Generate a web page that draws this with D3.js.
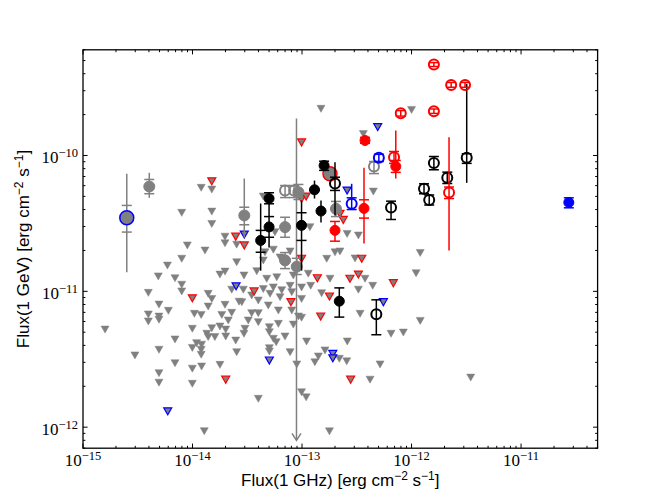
<!DOCTYPE html>
<html lang="en">
<head>
<meta charset="UTF-8">
<title>Flux(1 GHz) vs Flux(1 GeV)</title>
<script src="https://cdnjs.cloudflare.com/ajax/libs/d3/7.8.5/d3.min.js"></script>
<style>
    body { margin: 0; background: #fff; }
    svg { display: block; }
    .tick-label { font-family: "Liberation Serif", serif; font-size: 17px; fill: #000; }
    .axis-label { font-family: "Liberation Sans", sans-serif; font-size: 17px; fill: #000; }
</style>
</head>
<body>
<div id="chart"></div>
<script>
// upper limits: [flux 1 GHz, flux 1 GeV]
const limitsGray = [
    [5.9e-15, 1.55e-11], [1.78e-14, 1.33e-11], [1.98e-14, 1.40e-11], [2.53e-14, 1.64e-11],
    [4.87e-15, 1.29e-11], [6.92e-15, 1.25e-11], [7.97e-15, 1.12e-11], [7.97e-15, 1.0e-11],
    [2.28e-14, 1.03e-11], [3.95e-15, 9.76e-12], [1.39e-14, 9.6e-12], [1.50e-14, 8.8e-12],
    [4.94e-15, 8.0e-12], [1.39e-14, 7.74e-12], [1.98e-14, 7.97e-12], [2.66e-14, 8.4e-12],
    [6.02e-15, 7.2e-12], [3.95e-15, 6.77e-12], [4.94e-15, 6.53e-12], [4.94e-15, 6.19e-12],
    [1.04e-14, 6.84e-12], [1.20e-14, 6.72e-12], [1.85e-14, 6.72e-12], [2.28e-14, 6.96e-12],
    [2.12e-14, 6.11e-12], [3.95e-15, 6.01e-12], [1.59e-15, 5.24e-12], [9.96e-15, 5.31e-12],
    [1.50e-14, 5.36e-12], [1.78e-14, 5.52e-12], [2.01e-14, 5.24e-12], [1.35e-14, 4.88e-12],
    [1.39e-14, 4.61e-12], [1.60e-14, 4.61e-12], [2.01e-14, 4.66e-12], [2.48e-14, 4.35e-12],
    [6.92e-15, 4.43e-12], [1.09e-14, 4.16e-12], [1.21e-14, 4.05e-12], [9.96e-15, 3.84e-12],
    [1.20e-14, 3.72e-12], [4.94e-15, 3.72e-12], [2.53e-14, 3.57e-12], [2.98e-15, 3.38e-12],
    [1.20e-14, 3.42e-12], [6.92e-15, 2.96e-12], [1.78e-14, 2.88e-12], [1.21e-14, 2.80e-12],
    [9.96e-15, 2.70e-12], [4.94e-15, 2.50e-12], [4.94e-15, 2.13e-12], [9.96e-15, 2.09e-12],
    [1.28e-14, 9.36e-13], [1.20e-14, 5.79e-11], [1.50e-14, 5.62e-11], [7.97e-15, 3.79e-11],
    [1.50e-14, 3.87e-11], [1.50e-14, 3.14e-11], [1.98e-14, 2.53e-11], [1.98e-14, 2.26e-11],
    [2.53e-14, 2.21e-11], [8.97e-15, 2.18e-11], [1.30e-14, 2.0e-11], [7.97e-15, 1.74e-11],
    [1.49e-13, 2.21e-10], [3.63e-13, 1.44e-10], [4.43e-14, 4.99e-11], [5.66e-14, 2.73e-11],
    [1.18e-13, 2.97e-11], [3.27e-13, 2.58e-11], [1.68e-13, 1.74e-11], [2.0e-13, 1.94e-11],
    [2.22e-13, 1.97e-11], [3.05e-13, 1.75e-11], [7.78e-14, 1.97e-11], [5.47e-14, 2.03e-11],
    [4.59e-14, 1.94e-11], [4.43e-14, 1.69e-11], [6.30e-14, 1.78e-11], [2.58e-13, 2.65e-11],
    [4.48e-13, 5.43e-11], [2.95e-14, 1.31e-11], [3.86e-14, 1.41e-11], [4.76e-14, 1.24e-11],
    [5.88e-14, 1.27e-11], [8.33e-14, 1.31e-11], [1.14e-13, 1.35e-11], [7.78e-14, 1.10e-11],
    [9.9e-14, 1.07e-11], [1.80e-13, 1.24e-11], [3.76e-13, 1.24e-11], [4.42e-13, 1.10e-11],
    [1.20e-13, 1.10e-11], [2.91e-14, 1.03e-11], [3.47e-14, 9.34e-12], [4.43e-14, 1.04e-11],
    [5.10e-14, 9.60e-12], [5.47e-14, 1.07e-11], [6.53e-14, 1.02e-11], [6.30e-14, 9.07e-12],
    [8.06e-14, 9.87e-12], [9.9e-14, 8.81e-12], [1.51e-13, 9.70e-12], [3.27e-13, 1.03e-11],
    [2.82e-14, 8.33e-12], [3.99e-14, 8.58e-12], [4.92e-14, 7.88e-12], [3.47e-14, 6.92e-12],
    [3.99e-14, 6.92e-12], [6.08e-14, 7.24e-12], [8.06e-14, 7.24e-12], [9.27e-14, 6.54e-12],
    [9.9e-14, 6.40e-12], [3.39e-13, 6.84e-12], [3.23e-14, 6.11e-12], [3.99e-14, 5.94e-12],
    [6.08e-14, 5.77e-12], [5.03e-14, 5.45e-12], [8.33e-14, 5.70e-12], [3.01e-14, 5.31e-12],
    [2.95e-14, 4.88e-12], [5.03e-14, 5.01e-12], [6.99e-14, 4.66e-12], [5.47e-14, 4.48e-12],
    [5.81e-14, 4.23e-12], [1.10e-13, 4.28e-12], [2.59e-13, 4.28e-12], [6.50e-13, 4.88e-12],
    [5.03e-14, 3.82e-12], [5.03e-14, 3.61e-12], [7.78e-14, 3.57e-12], [1.62e-13, 3.68e-12],
    [1.41e-13, 3.32e-12], [1.31e-13, 3.01e-12], [2.19e-13, 3.19e-12], [2.56e-13, 3.06e-12],
    [8.95e-14, 2.90e-12], [5.16e-13, 2.90e-12], [4.18e-13, 2.24e-12], [9.9e-14, 1.81e-12],
    [1.09e-13, 1.66e-12], [3.99e-14, 1.62e-12], [1.78e-13, 9.33e-13], [1.20e-12, 1.92e-11],
    [1.10e-12, 1.36e-11], [1.20e-12, 6.07e-12], [8.42e-13, 4.98e-12], [3.47e-12, 2.32e-12],
    [1.0e-12, 2.17e-10]
];
const limitsRedEdge = [
    [9.96e-15, 8.9e-12], [2.01e-14, 2.24e-12], [1.50e-14, 6.47e-11], [2.48e-14, 2.53e-11],
    [9.9e-14, 1.25e-10], [9.9e-14, 4.80e-11], [1.09e-13, 4.99e-11], [2.97e-14, 2.18e-11],
    [2.22e-13, 3.72e-11], [2.38e-13, 3.36e-11], [3.51e-13, 1.74e-11], [9.9e-14, 1.74e-11],
    [1.38e-13, 1.25e-11], [2.74e-13, 1.24e-11], [3.27e-13, 1.33e-11], [3.65e-14, 1.0e-11],
    [7.92e-14, 8.33e-12], [1.78e-13, 9.18e-12], [6.82e-13, 1.15e-11], [1.48e-13, 6.54e-12],
    [2.78e-13, 2.24e-12]
];
const limitsBlueEdge = [
    [2.50e-14, 1.09e-11], [5.94e-15, 1.31e-12], [2.97e-14, 2.62e-11], [5.53e-13, 8.33e-12],
    [1.91e-13, 3.47e-12], [1.91e-13, 3.22e-12], [5.03e-14, 3.10e-12], [4.91e-13, 1.62e-10],
    [2.58e-13, 5.53e-11]
];

// detections: [x, y, capLo, capHi, lineLo, lineHi]
const grayFilled = [
    [4.03e-15, 5.91e-11, 5.23e-11, 6.66e-11, 4.88e-11, 7.46e-11],
    [2.97e-14, 3.62e-11, 3.09e-11, 4.16e-11, 2.49e-11, 6.77e-11],
    [7.0e-14, 2.97e-11, 2.50e-11, 3.51e-11],
    [9.27e-14, 5.37e-11, 4.74e-11, 6.12e-11],
    [7.0e-14, 1.69e-11, 1.47e-11, 1.93e-11],
    [8.95e-14, 1.52e-11, 1.33e-11, 1.75e-11],
    [2.04e-13, 4.05e-11, 3.55e-11, 4.59e-11]
];
const grayBlueRing = [[2.51e-15, 3.48e-11, 2.73e-11, 4.29e-11, 1.38e-11, 7.33e-11]];
const grayRedRing = [[1.80e-13, 7.33e-11]];
const grayOpen = [
    [7.0e-14, 5.53e-11, 4.90e-11, 6.01e-11],
    [8.46e-14, 5.53e-11, 4.90e-11, 6.01e-11],
    [4.54e-13, 8.31e-11, 7.36e-11, 9.03e-11]
];
// long gray error bar ending in an arrow: [x, top, arrow tip]
const grayArrow = [[8.9e-14, 1.87e-10, 8.0e-13]];

const blackFilled = [
    [5.00e-14, 4.82e-11, 4.41e-11, 5.32e-11],
    [5.00e-14, 2.98e-11, 2.50e-11, 3.55e-11, 2.10e-11, 4.43e-11],
    [4.19e-14, 2.37e-11, 1.94e-11, 2.81e-11, 1.42e-11, 4.43e-11],
    [9.9e-14, 3.06e-11, 2.37e-11, 3.79e-11, 1.42e-11, 4.66e-11],
    [1.59e-13, 8.43e-11, 7.77e-11, 9.08e-11],
    [2.19e-13, 8.46e-12, 6.46e-12, 1.06e-11]
];
// [x, y, yLo, yHi, xLo, xHi]
const blackCross = [
    [1.30e-13, 5.59e-11, 4.82e-11, 6.54e-11, 1.16e-13, 1.46e-13],
    [1.49e-13, 3.90e-11, 3.21e-11, 4.66e-11, 1.34e-13, 1.66e-13]
];
const blackOpen = [
    [2.0e-13, 6.22e-11, 5.53e-11, 6.92e-11, 3.62e-11, 8.92e-11],
    [6.50e-13, 4.14e-11, 3.38e-11, 4.61e-11],
    [1.60e-12, 8.80e-11, 7.85e-11, 9.83e-11],
    [1.30e-12, 5.69e-11, 5.23e-11, 6.19e-11],
    [1.45e-12, 4.70e-11, 4.32e-11, 5.12e-11],
    [2.12e-12, 6.86e-11, 6.22e-11, 7.54e-11],
    [3.19e-12, 9.62e-11, 8.75e-11, 1.03e-10, 6.29e-11, 3.37e-10],
    [4.77e-13, 6.77e-12, 4.79e-12, 8.66e-12]
];
const redFilled = [
    [3.76e-13, 1.29e-10, 1.23e-10, 1.36e-10],
    [3.68e-13, 4.08e-11, 3.46e-11, 4.72e-11, 2.25e-11, 8.12e-11],
    [2.0e-13, 2.81e-11, 2.34e-11, 3.27e-11],
    [7.18e-13, 8.31e-11, 7.51e-11, 9.19e-11, 6.77e-11, 1.53e-10]
];
const redOpen = [
    [1.60e-12, 4.67e-10, 4.52e-10, 4.83e-10],
    [2.30e-12, 3.31e-10, 3.18e-10, 3.45e-10],
    [3.08e-12, 3.31e-10, 3.18e-10, 3.45e-10],
    [1.60e-12, 2.12e-10, 2.04e-10, 2.20e-10],
    [7.97e-13, 2.05e-10, 1.95e-10, 2.14e-10],
    [6.92e-13, 9.71e-11, 8.75e-11, 1.07e-10],
    [2.20e-12, 5.34e-11, 4.82e-11, 5.86e-11, 2.0e-11, 1.36e-10]
];
const blueFilled = [[2.73e-11, 4.51e-11, 4.12e-11, 4.88e-11]];
const blueOpen = [
    [5.03e-13, 9.62e-11, 9.03e-11, 1.02e-10],
    [2.84e-13, 4.41e-11, 4.00e-11, 4.88e-11, 4.00e-11, 6.19e-11]
];

const xMajor = [1e-15, 1e-14, 1e-13, 1e-12, 1e-11];
const yMajor = [1e-12, 1e-11, 1e-10];

const width = 664, height = 498;
const mL = 83, mR = 597.6, mT = 49.8, mB = 448.2;
const gray = "#808080";

const svg = d3.select("#chart").append("svg")
    .attr("width", width)
    .attr("height", height);

const x = d3.scaleLog().domain([1e-15, 5e-11]).range([mL, mR]);
const y = d3.scaleLog().domain([7e-13, 6e-10]).range([mB, mT]);

const plot = svg.append("g");

// triangles pointing down = upper limits
const tri = "M-4,-3.4L4,-3.4L0,3.6Z";
function drawLimits(rows, edge, ew) {
    plot.append("g").selectAll("path")
        .data(rows)
        .join("path")
        .attr("d", tri)
        .attr("transform", d => `translate(${x(d[0])},${y(d[1])})`)
        .attr("fill", gray)
        .attr("stroke", edge)
        .attr("stroke-width", ew);
}
drawLimits(limitsGray, gray, 0.5);
drawLimits(limitsRedEdge, "#ff0000", 1.2);
drawLimits(limitsBlueEdge, "#0000ff", 1.2);

function drawPoints(rows, opt) {
    const g = plot.append("g");
    const lw = opt.lw || 1.5;
    rows.forEach(d => {
        const cx = x(d[0]), cy = y(d[1]);
        if (d.length > 2) {
            const lo = d.length > 4 ? Math.min(d[2], d[4]) : d[2];
            const hi = d.length > 4 ? Math.max(d[3], d[5]) : d[3];
            g.append("line")
                .attr("x1", cx).attr("x2", cx)
                .attr("y1", y(lo)).attr("y2", y(hi))
                .attr("stroke", opt.bar).attr("stroke-width", lw);
            [d[2], d[3]].forEach(v => {
                g.append("line")
                    .attr("x1", cx - 5).attr("x2", cx + 5)
                    .attr("y1", y(v)).attr("y2", y(v))
                    .attr("stroke", opt.bar).attr("stroke-width", lw);
            });
        }
        g.append("circle")
            .attr("cx", cx).attr("cy", cy)
            .attr("r", opt.r || 5)
            .attr("fill", opt.fill)
            .attr("stroke", opt.stroke)
            .attr("stroke-width", opt.sw || 1);
    });
}

// error bar with no lower bound, drawn down to an arrow
grayArrow.forEach(d => {
    const cx = x(d[0]);
    const tip = y(d[2]);
    plot.append("line")
        .attr("x1", cx).attr("x2", cx)
        .attr("y1", y(d[1])).attr("y2", tip)
        .attr("stroke", gray).attr("stroke-width", 1.5);
    plot.append("path")
        .attr("d", `M${cx - 4.5},${tip - 7}L${cx},${tip}L${cx + 4.5},${tip - 7}`)
        .attr("fill", "none")
        .attr("stroke", gray).attr("stroke-width", 1.5);
});

drawPoints(grayFilled, {bar: gray, fill: gray, stroke: gray, r: 5.5});
drawPoints(grayBlueRing, {bar: gray, fill: gray, stroke: "#0000ff", r: 7, sw: 1.5});
drawPoints(grayRedRing, {bar: gray, fill: gray, stroke: "#ff0000", r: 7, sw: 1.5});
drawPoints(grayOpen, {bar: gray, fill: "none", stroke: gray, r: 5, sw: 2});

// black points with both x and y errors
blackCross.forEach(d => {
    const cx = x(d[0]), cy = y(d[1]);
    plot.append("line")
        .attr("x1", cx).attr("x2", cx).attr("y1", y(d[2])).attr("y2", y(d[3]))
        .attr("stroke", "#000").attr("stroke-width", 1.5);
    plot.append("line")
        .attr("x1", x(d[4])).attr("x2", x(d[5])).attr("y1", cy).attr("y2", cy)
        .attr("stroke", "#000").attr("stroke-width", 1.5);
});
drawPoints(blackCross.map(d => d.slice(0, 2)), {fill: "#000", stroke: "#000", r: 5});
drawPoints(blackFilled, {bar: "#000", fill: "#000", stroke: "#000", r: 5});
drawPoints(blackOpen, {bar: "#000", fill: "none", stroke: "#000", r: 5, sw: 2});
drawPoints(redFilled, {bar: "#ff0000", fill: "#ff0000", stroke: "#ff0000", r: 5});
drawPoints(redOpen, {bar: "#ff0000", fill: "none", stroke: "#ff0000", r: 5, sw: 2});
drawPoints(blueFilled, {bar: "#0000ff", fill: "#0000ff", stroke: "#0000ff", r: 5});
drawPoints(blueOpen, {bar: "#0000ff", fill: "none", stroke: "#0000ff", r: 5, sw: 2});

// frame and ticks
const axes = svg.append("g");
axes.append("rect")
    .attr("x", mL).attr("y", mT)
    .attr("width", mR - mL).attr("height", mB - mT)
    .attr("fill", "none").attr("stroke", "#000").attr("stroke-width", 1.3);

const xTicks = x.ticks();
const yTicks = y.ticks();
const isMajor = v => Math.abs(Math.log10(v) - Math.round(Math.log10(v))) < 1e-6;

xTicks.forEach(v => {
    const len = isMajor(v) ? 4.6 : 2.4;
    const px = x(v);
    axes.append("line").attr("x1", px).attr("x2", px).attr("y1", mB).attr("y2", mB - len)
        .attr("stroke", "#000").attr("stroke-width", 1);
    axes.append("line").attr("x1", px).attr("x2", px).attr("y1", mT).attr("y2", mT + len)
        .attr("stroke", "#000").attr("stroke-width", 1);
});
yTicks.forEach(v => {
    const len = isMajor(v) ? 4.6 : 2.4;
    const py = y(v);
    axes.append("line").attr("x1", mL).attr("x2", mL + len).attr("y1", py).attr("y2", py)
        .attr("stroke", "#000").attr("stroke-width", 1);
    axes.append("line").attr("x1", mR).attr("x2", mR - len).attr("y1", py).attr("y2", py)
        .attr("stroke", "#000").attr("stroke-width", 1);
});

function powLabel(sel, v) {
    const e = Math.round(Math.log10(v));
    sel.append("tspan").text("10");
    sel.append("tspan")
        .attr("dy", -6)
        .style("font-size", "12.5px")
        .text("\u2212" + Math.abs(e));
}

xMajor.forEach(v => {
    const t = axes.append("text")
        .attr("class", "tick-label")
        .attr("x", x(v))
        .attr("y", 465.5)
        .attr("text-anchor", "middle");
    powLabel(t, v);
});
yMajor.forEach(v => {
    const t = axes.append("text")
        .attr("class", "tick-label")
        .attr("x", mL - 5)
        .attr("y", y(v) + 8)
        .attr("text-anchor", "end");
    powLabel(t, v);
});

// axis titles
function unitLabel(sel, prefix) {
    sel.append("tspan").text(prefix + " [erg cm");
    sel.append("tspan").attr("dy", -6).style("font-size", "12px").text("\u22122");
    sel.append("tspan").attr("dy", 6).text(" s");
    sel.append("tspan").attr("dy", -6).style("font-size", "12px").text("\u22121");
    sel.append("tspan").attr("dy", 6).text("]");
}
const xt = svg.append("text")
    .attr("class", "axis-label")
    .attr("x", (mL + mR) / 2)
    .attr("y", 486)
    .attr("text-anchor", "middle");
unitLabel(xt, "Flux(1 GHz)");

const yt = svg.append("text")
    .attr("class", "axis-label")
    .attr("transform", `translate(29,${(mT + mB) / 2}) rotate(-90)`)
    .attr("text-anchor", "middle");
unitLabel(yt, "Flux(1 GeV)");
</script>
</body>
</html>
